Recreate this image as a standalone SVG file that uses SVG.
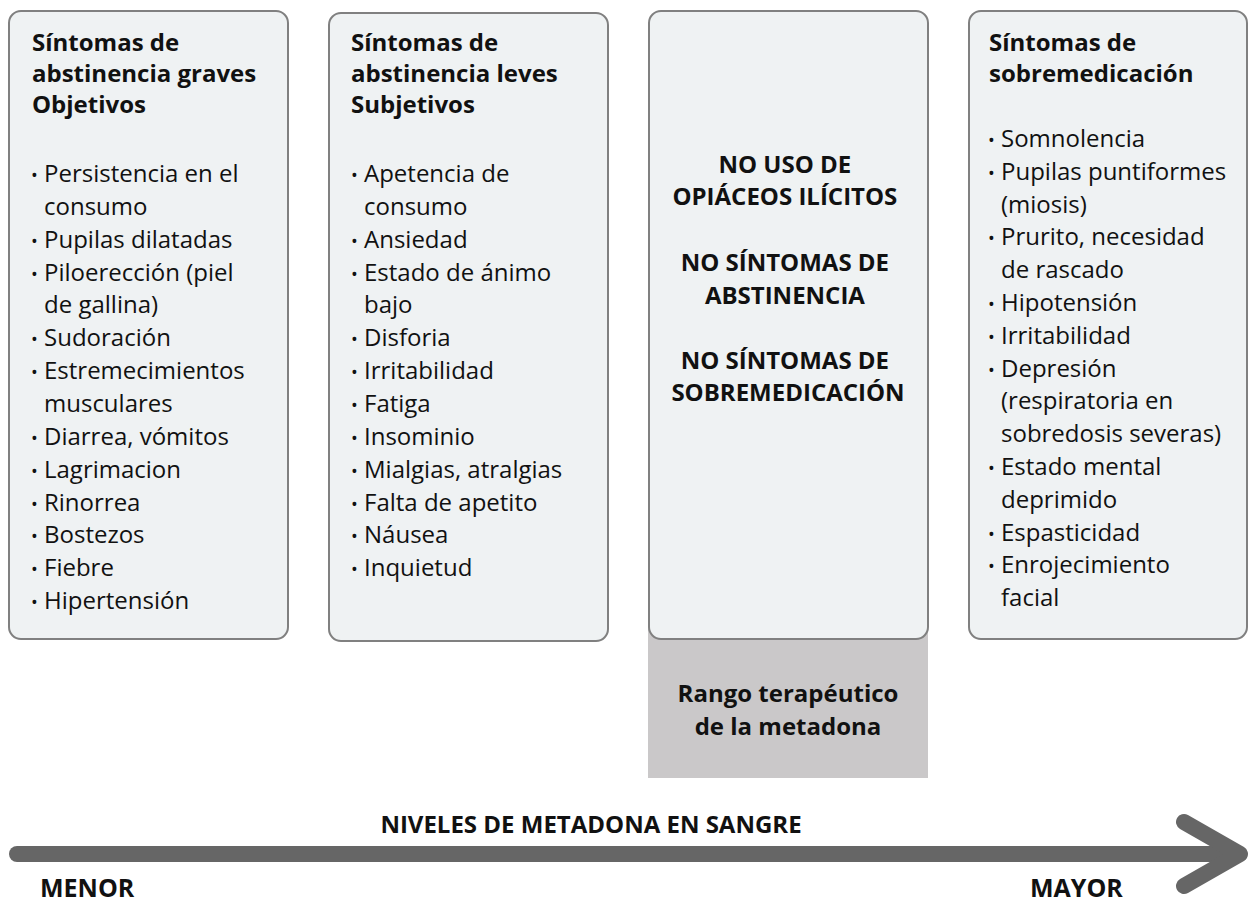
<svg xmlns="http://www.w3.org/2000/svg" width="1249" height="903" viewBox="0 0 1249 903">
<style>
.box{fill:#eff2f3;stroke:#808080;stroke-width:2}
.t{font-family:"Open Sans","Noto Sans",sans-serif;fill:#111}
.h{font-size:24px;font-weight:700}
.b{font-size:24px;font-weight:400}
.c{font-size:24px;font-weight:700;text-anchor:middle}
.bul{font-size:18px}
</style>
<rect width="1249" height="903" fill="#ffffff"/>
<g id="range">
<rect x="648" y="560" width="280" height="218" fill="#cac8c9"/>
<text class="t c" x="788" y="702">Rango terapéutico</text>
<text class="t c" x="788" y="735">de la metadona</text>
</g>
<g id="box1">
<rect class="box" x="9" y="11" width="279" height="628" rx="12"/>
<text class="t h" x="32"><tspan x="32" y="51">Síntomas de</tspan><tspan x="32" y="82">abstinencia graves</tspan><tspan x="32" y="113">Objetivos</tspan></text>
<text class="t b">
<tspan x="31" y="182" class="bul">•</tspan><tspan x="44" y="182">Persistencia en el</tspan>
<tspan x="44" y="214.8">consumo</tspan>
<tspan x="31" y="247.7" class="bul">•</tspan><tspan x="44" y="247.7">Pupilas dilatadas</tspan>
<tspan x="31" y="280.5" class="bul">•</tspan><tspan x="44" y="280.5">Piloerección (piel</tspan>
<tspan x="44" y="313.4">de gallina)</tspan>
<tspan x="31" y="346.2" class="bul">•</tspan><tspan x="44" y="346.2">Sudoración</tspan>
<tspan x="31" y="379.1" class="bul">•</tspan><tspan x="44" y="379.1">Estremecimientos</tspan>
<tspan x="44" y="412">musculares</tspan>
<tspan x="31" y="444.8" class="bul">•</tspan><tspan x="44" y="444.8">Diarrea, vómitos</tspan>
<tspan x="31" y="477.7" class="bul">•</tspan><tspan x="44" y="477.7">Lagrimacion</tspan>
<tspan x="31" y="510.5" class="bul">•</tspan><tspan x="44" y="510.5">Rinorrea</tspan>
<tspan x="31" y="543.4" class="bul">•</tspan><tspan x="44" y="543.4">Bostezos</tspan>
<tspan x="31" y="576.2" class="bul">•</tspan><tspan x="44" y="576.2">Fiebre</tspan>
<tspan x="31" y="609" class="bul">•</tspan><tspan x="44" y="609">Hipertensión</tspan>
</text>
</g>
<g id="box2">
<rect class="box" x="329" y="13" width="279" height="628" rx="12"/>
<text class="t h"><tspan x="351" y="51">Síntomas de</tspan><tspan x="351" y="82">abstinencia leves</tspan><tspan x="351" y="113">Subjetivos</tspan></text>
<text class="t b">
<tspan x="351" y="182" class="bul">•</tspan><tspan x="364" y="182">Apetencia de</tspan>
<tspan x="364" y="214.8">consumo</tspan>
<tspan x="351" y="247.7" class="bul">•</tspan><tspan x="364" y="247.7">Ansiedad</tspan>
<tspan x="351" y="280.5" class="bul">•</tspan><tspan x="364" y="280.5">Estado de ánimo</tspan>
<tspan x="364" y="313.4">bajo</tspan>
<tspan x="351" y="346.2" class="bul">•</tspan><tspan x="364" y="346.2">Disforia</tspan>
<tspan x="351" y="379.1" class="bul">•</tspan><tspan x="364" y="379.1">Irritabilidad</tspan>
<tspan x="351" y="412" class="bul">•</tspan><tspan x="364" y="412">Fatiga</tspan>
<tspan x="351" y="444.8" class="bul">•</tspan><tspan x="364" y="444.8">Insominio</tspan>
<tspan x="351" y="477.7" class="bul">•</tspan><tspan x="364" y="477.7">Mialgias, atralgias</tspan>
<tspan x="351" y="510.5" class="bul">•</tspan><tspan x="364" y="510.5">Falta de apetito</tspan>
<tspan x="351" y="543.4" class="bul">•</tspan><tspan x="364" y="543.4">Náusea</tspan>
<tspan x="351" y="576.2" class="bul">•</tspan><tspan x="364" y="576.2">Inquietud</tspan>
</text>
</g>
<g id="box3">
<rect class="box" x="649" y="11" width="279" height="628" rx="12"/>
<text class="t c">
<tspan x="788" y="173">NO USO DE</tspan>
<tspan x="788" y="205">OPIÁCEOS ILÍCITOS</tspan>
<tspan x="788" y="271">NO SÍNTOMAS DE</tspan>
<tspan x="788" y="304">ABSTINENCIA</tspan>
<tspan x="788" y="369">NO SÍNTOMAS DE</tspan>
<tspan x="788" y="401">SOBREMEDICACIÓN</tspan>
</text>
</g>
<g id="box4">
<rect class="box" x="969" y="11" width="278" height="628" rx="12"/>
<text class="t h"><tspan x="989" y="51">Síntomas de</tspan><tspan x="989" y="82">sobremedicación</tspan></text>
<text class="t b">
<tspan x="988" y="147" class="bul">•</tspan><tspan x="1001" y="147">Somnolencia</tspan>
<tspan x="988" y="179.8" class="bul">•</tspan><tspan x="1001" y="179.8">Pupilas puntiformes</tspan>
<tspan x="1001" y="212.6">(miosis)</tspan>
<tspan x="988" y="245.4" class="bul">•</tspan><tspan x="1001" y="245.4">Prurito, necesidad</tspan>
<tspan x="1001" y="278.2">de rascado</tspan>
<tspan x="988" y="311" class="bul">•</tspan><tspan x="1001" y="311">Hipotensión</tspan>
<tspan x="988" y="343.8" class="bul">•</tspan><tspan x="1001" y="343.8">Irritabilidad</tspan>
<tspan x="988" y="376.6" class="bul">•</tspan><tspan x="1001" y="376.6">Depresión</tspan>
<tspan x="1001" y="409.4">(respiratoria en</tspan>
<tspan x="1001" y="442.2">sobredosis severas)</tspan>
<tspan x="988" y="475" class="bul">•</tspan><tspan x="1001" y="475">Estado mental</tspan>
<tspan x="1001" y="507.8">deprimido</tspan>
<tspan x="988" y="540.6" class="bul">•</tspan><tspan x="1001" y="540.6">Espasticidad</tspan>
<tspan x="988" y="573.4" class="bul">•</tspan><tspan x="1001" y="573.4">Enrojecimiento</tspan>
<tspan x="1001" y="606.2">facial</tspan>
</text>
</g>
<g id="connectors">
<line x1="17" y1="854" x2="1236" y2="854" stroke="#666666" stroke-width="16" stroke-linecap="round"/>
<polyline points="1184,822 1240,854 1184,886" fill="none" stroke="#666666" stroke-width="16" stroke-linecap="round" stroke-linejoin="round"/>
</g>
<g id="labels">
<text class="t c" x="591" y="833">NIVELES DE METADONA EN SANGRE</text>
<text class="t h" x="40" y="897" style="font-size:25px">MENOR</text>
<text class="t h" x="1030" y="897" style="font-size:25px">MAYOR</text>
</g>
</svg>
